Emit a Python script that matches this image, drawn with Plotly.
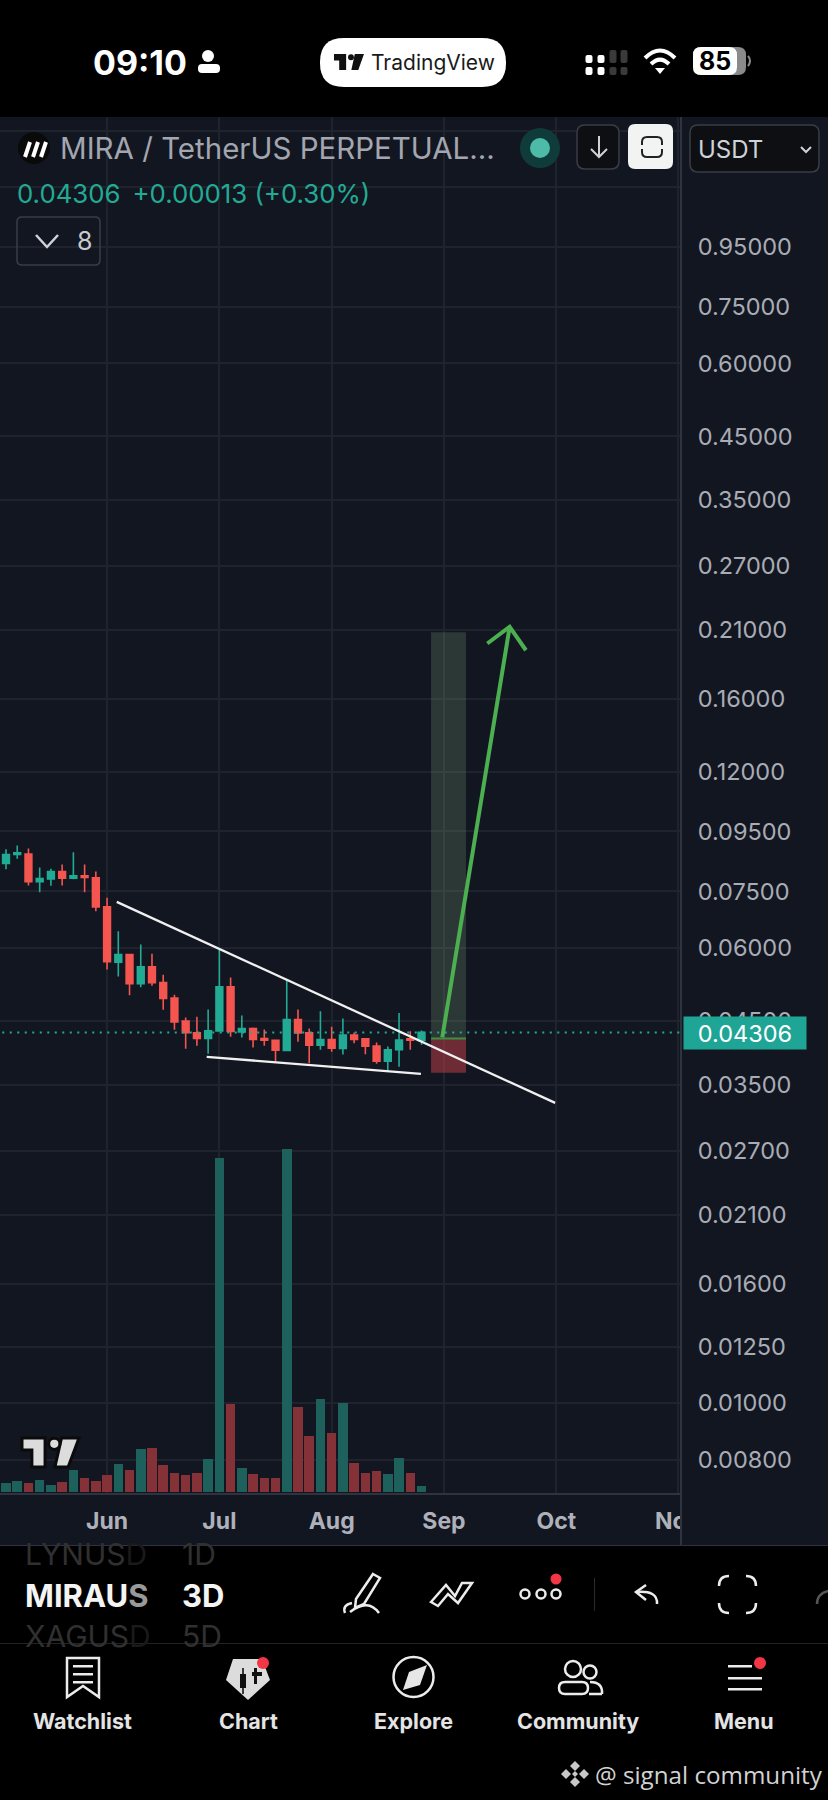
import plotly.graph_objects as go

# ============================
# 1. Chart data (3D bars, MIRAUSDT perp)
# ============================
opens = [0.08374, 0.08676, 0.08687, 0.07791, 0.07883, 0.08115, 0.07904, 0.07978, 0.07914, 0.07060,
         0.05678, 0.05853, 0.05214, 0.05575, 0.05242, 0.04928, 0.04501, 0.04300, 0.04204, 0.04333,
         0.05153, 0.04316, 0.04373, 0.04204, 0.04176, 0.04010, 0.04531, 0.04299, 0.04095, 0.04188,
         0.04042, 0.04260, 0.04199, 0.04079, 0.03845, 0.04021, 0.04199, 0.04171]
highs = [0.08860, 0.08989, 0.08883, 0.08244, 0.08200, 0.08341, 0.08756, 0.08341, 0.08115, 0.07315,
         0.06416, 0.05853, 0.06087, 0.05868, 0.05402, 0.04993, 0.04567, 0.04579, 0.04713, 0.05969,
         0.05345, 0.04604, 0.04391, 0.04356, 0.04176, 0.05311, 0.04713, 0.04373, 0.04682, 0.04402,
         0.04549, 0.04304, 0.04199, 0.04138, 0.04074, 0.04646, 0.04327, 0.04339]
lows = [0.08189, 0.08529, 0.07679, 0.07481, 0.07669, 0.07679, 0.07873, 0.07481, 0.06941, 0.05517,
        0.05366, 0.04987, 0.05146, 0.05173, 0.04707, 0.04350, 0.04036, 0.04085, 0.03958, 0.04316,
        0.04232, 0.04221, 0.04058, 0.04085, 0.03841, 0.04010, 0.04149, 0.03815, 0.04021, 0.03989,
        0.03947, 0.04127, 0.03953, 0.03805, 0.03687, 0.03761, 0.04021, 0.04100]
closes = [0.08676, 0.08733, 0.07791, 0.07894, 0.08115, 0.07904, 0.07978, 0.07925, 0.07060, 0.05686,
          0.05853, 0.05214, 0.05575, 0.05235, 0.04921, 0.04489, 0.04300, 0.04204, 0.04333, 0.05153,
          0.04322, 0.04373, 0.04187, 0.04176, 0.04015, 0.04531, 0.04299, 0.04095, 0.04188, 0.04047,
          0.04260, 0.04188, 0.04079, 0.03845, 0.04021, 0.04177, 0.04177, 0.04306]
volumes = [27, 32, 28, 37, 21, 30, 67, 43, 34, 52, 83, 67, 129, 132, 82, 56, 51, 58, 99, 1001,
           263, 73, 54, 43, 41, 1029, 255, 169, 278, 178, 268, 88, 56, 64, 54, 101, 56, 18]
bars = list(range(len(opens)))

price_ticks = [1.5, 1.2, 0.95, 0.75, 0.6, 0.45, 0.35, 0.27, 0.21, 0.16, 0.12, 0.095, 0.075, 0.06,
               0.045, 0.035, 0.027, 0.021, 0.016, 0.0125, 0.01, 0.008]
price_labels = ["", "", "0.95000", "0.75000", "0.60000", "0.45000", "0.35000", "0.27000", "0.21000",
                "0.16000", "0.12000", "0.09500", "0.07500", "0.06000", "0.04500", "0.03500",
                "0.02700", "0.02100", "0.01600", "0.01250", "0.01000", "0.00800"]
month_ticks = [9, 19, 29, 39, 49, 59.8]
month_labels = ["Jun", "Jul", "Aug", "Sep", "Oct", "Nov"]

# drawings on the chart (bar index, price)
top_line_x = [9.86, 48.9]
top_line_y = [0.07200, 0.03263]
low_line_x = [17.87, 36.95]
low_line_y = [0.03911, 0.03658]
box_x = [37.85, 40.96, 40.96, 37.85, 37.85]
box_top_y = [0.2082, 0.2082, 0.04205, 0.04205, 0.2082]
box_low_y = [0.04205, 0.04205, 0.03672, 0.03672, 0.04205]
arrow_x = [38.85, 44.85]
arrow_y = [0.04222, 0.2126]
head_x = [42.86, 44.85, 46.3]
head_y = [0.1991, 0.2126, 0.1939]
last_price = 0.04306

PANEL = "#121621"
GRID = "#1f232e"
EDGE = "#2f3340"
UP = "#22ab94"
DOWN = "#f5554f"
FONT = "Inter"
W, H = 828, 1800


# ============================
# 2. Helpers for the app chrome (pixel -> paper)
# ============================
def fx(x):
    return x / W


def fy(y):
    return 1 - y / H


def path_of(points, close=False):
    out = ""
    for i, (x, y) in enumerate(points):
        out += ("M" if i == 0 else "L") + f"{fx(x):.5f},{fy(y):.5f} "
    return out + ("Z" if close else "")


def curve(x0, y0, cx, cy, x1, y1):
    return f"M{fx(x0):.5f},{fy(y0):.5f} Q{fx(cx):.5f},{fy(cy):.5f} {fx(x1):.5f},{fy(y1):.5f}"


def round_rect(x0, y0, x1, y1, r):
    p = [(x0 + r, y0), (x1 - r, y0), (x1, y0), (x1, y0 + r), (x1, y1 - r), (x1, y1), (x1 - r, y1),
         (x0 + r, y1), (x0, y1), (x0, y1 - r), (x0, y0 + r), (x0, y0), (x0 + r, y0)]
    c = [(fx(a), fy(b)) for a, b in p]
    return (f"M{c[0][0]:.5f},{c[0][1]:.5f} L{c[1][0]:.5f},{c[1][1]:.5f} "
            f"Q{c[2][0]:.5f},{c[2][1]:.5f} {c[3][0]:.5f},{c[3][1]:.5f} L{c[4][0]:.5f},{c[4][1]:.5f} "
            f"Q{c[5][0]:.5f},{c[5][1]:.5f} {c[6][0]:.5f},{c[6][1]:.5f} L{c[7][0]:.5f},{c[7][1]:.5f} "
            f"Q{c[8][0]:.5f},{c[8][1]:.5f} {c[9][0]:.5f},{c[9][1]:.5f} L{c[10][0]:.5f},{c[10][1]:.5f} "
            f"Q{c[11][0]:.5f},{c[11][1]:.5f} {c[12][0]:.5f},{c[12][1]:.5f} Z")


shapes = []
notes = []


def draw(path, fill="rgba(0,0,0,0)", color="rgba(0,0,0,0)", width=0):
    shapes.append(dict(type="path", xref="paper", yref="paper", path=path, fillcolor=fill,
                       line=dict(color=color, width=width), layer="above"))


def rect(x0, y0, x1, y1, fill):
    shapes.append(dict(type="rect", xref="paper", yref="paper", x0=fx(x0), x1=fx(x1), y0=fy(y1), y1=fy(y0),
                       fillcolor=fill, line=dict(width=0), layer="above"))


def dot(x, y, r, fill="rgba(0,0,0,0)", color="rgba(0,0,0,0)", width=0):
    shapes.append(dict(type="circle", xref="paper", yref="paper", x0=fx(x - r), x1=fx(x + r), y0=fy(y + r),
                       y1=fy(y - r), fillcolor=fill, line=dict(color=color, width=width), layer="above"))


def text(x, y, s, size, color, anchor="left", font=FONT):
    notes.append(dict(xref="paper", yref="paper", x=fx(x), y=fy(y), text=s, showarrow=False, xanchor=anchor,
                      yanchor="middle", font=dict(family=font, size=size, color=color), borderpad=0))


def tv_logo(x0, y0, w, h, fill, edge=None):
    def n(a, b):
        return (x0 + (a - 65) / 173 * w, y0 + (b - 925) / 85 * h)
    lw = 3 if edge else 0
    col = edge or "rgba(0,0,0,0)"
    draw(path_of([n(65, 925), n(135, 925), n(135, 1010), n(95, 1010), n(95, 960), n(65, 960)], True), fill, col, lw)
    draw(path_of([n(185, 925), n(238, 925), n(205, 1010), n(165, 1010)], True), fill, col, lw)
    dot(*n(163, 942), 17 / 173 * w, fill, col, lw)


# ============================
# 3. Chart traces
# ============================
fig = go.Figure()

fig.add_trace(go.Scatter(x=box_x, y=box_top_y, mode="lines", fill="toself", fillcolor="rgba(118,158,117,0.25)",
                         line=dict(width=0), hoverinfo="skip"))
fig.add_trace(go.Scatter(x=box_x, y=box_low_y, mode="lines", fill="toself", fillcolor="rgba(170,59,68,0.6)",
                         line=dict(width=0), hoverinfo="skip"))
fig.add_trace(go.Scatter(x=box_x[:2], y=box_low_y[:2], mode="lines", line=dict(color="#3f8f42", width=2),
                         hoverinfo="skip"))
fig.add_trace(go.Scatter(x=[-1, 61], y=[last_price, last_price], mode="lines",
                         line=dict(color=UP, width=2, dash="2px,5.5px"), hoverinfo="skip"))
fig.add_trace(go.Candlestick(x=bars, open=opens, high=highs, low=lows, close=closes, whiskerwidth=0,
                             increasing=dict(line=dict(color=UP, width=1.6), fillcolor=UP),
                             decreasing=dict(line=dict(color=DOWN, width=1.6), fillcolor=DOWN)))
fig.add_trace(go.Scatter(x=top_line_x, y=top_line_y, mode="lines", line=dict(color="#f0f0f0", width=2.3),
                         hoverinfo="skip"))
fig.add_trace(go.Scatter(x=low_line_x, y=low_line_y, mode="lines", line=dict(color="#f0f0f0", width=2.3),
                         hoverinfo="skip"))
fig.add_trace(go.Scatter(x=arrow_x, y=arrow_y, mode="lines", line=dict(color="#4caf50", width=4),
                         hoverinfo="skip"))
fig.add_trace(go.Scatter(x=head_x, y=head_y, mode="lines", line=dict(color="#4caf50", width=4),
                         hoverinfo="skip"))
vol_colors = [("#1e605c" if c >= o else "#843237") for o, c in zip(opens, closes)]
fig.add_trace(go.Bar(x=bars, y=volumes, marker=dict(color=vol_colors, line=dict(width=0)), width=0.85,
                     yaxis="y2", hoverinfo="skip"))

# ============================
# 4. App chrome
# ============================
# chart watermark
tv_logo(22, 1438, 57, 29, "#dcdcdc", "#0b0b0b")

# top and bottom black bands
rect(0, 0, W, 117, "#000000")
rect(0, 1546, W, H, "#000000")
rect(682, 1494, W, 1545, PANEL)
rect(680, 117, 682, 1546, EDGE)
rect(0, 1545, W, 1546, EDGE)

# status bar
text(92, 62, "<b>09:10</b>", 34, "#ffffff")
dot(208, 56, 6, "#ffffff")
draw(round_rect(198, 64, 220, 73, 4), "#ffffff")
draw(round_rect(320, 38, 506, 87, 24), "#ffffff")
tv_logo(334, 54, 30, 16, "#111111")
text(370, 62, "TradingView", 21, "#1a1a1a")
for bx, col in [(589, "#ffffff"), (601, "#ffffff"), (613, "#3a3a3a"), (624, "#3a3a3a")]:
    draw(round_rect(bx - 3.5, 55 if bx < 610 else 50, bx + 3.5, 63, 2), col)
    draw(round_rect(bx - 3.5, 67, bx + 3.5, 75, 2), col)
draw(curve(645, 58, 660, 43, 675, 58), color="#ffffff", width=4)
draw(curve(651, 64, 660, 55, 669, 64), color="#ffffff", width=4)
draw(path_of([(655, 68), (665, 68), (660, 74)], True), "#ffffff")
draw(round_rect(693, 47, 746, 75, 8), "#8a8a8a")
draw(round_rect(693, 47, 737, 75, 8), "#ffffff")
draw(curve(748, 56, 752, 61, 748, 66), color="#8a8a8a", width=2)
text(715, 61, "<b>85</b>", 25, "#000000", "center")

# symbol header
dot(34, 148, 16, "#0a0a0a")
for sx in (25, 33, 41):
    draw(path_of([(sx, 157), (sx + 5, 142)]), color="#ffffff", width=4)
text(59, 148, "MIRA / TetherUS PERPETUAL...", 29.5, "#a3a6af")
dot(540, 148, 20, "#0f3b3b")
dot(540, 148, 10, "#4dbba8")
draw(round_rect(577, 125, 619, 169, 8), "#0e0f12", "#3a3d46", 1.5)
draw(path_of([(599, 136), (599, 157)]), color="#d0d2d6", width=2)
draw(path_of([(591, 149), (599, 157), (607, 149)]), color="#d0d2d6", width=2)
draw(round_rect(628, 124, 673, 169, 7), "#f2f3f3")
draw(round_rect(642, 137, 662, 157, 5), color="#222222", width=2)
rect(638, 145, 666, 149, "#f2f3f3")
draw(round_rect(690, 125, 819, 172, 8), "#0e0f12", "#3a3d46", 1.5)
text(697, 149, "USDT", 24, "#cfd2d8")
draw(path_of([(801, 147), (806, 152), (811, 147)]), color="#cfd2d8", width=2)
text(15.5, 193, "0.04306 \u2009+0.00013 (+0.30%)", 25.8, UP)
draw(round_rect(17, 217, 100, 265, 5), "rgba(0,0,0,0)", "#3a3d46", 1.5)
draw(path_of([(36, 235), (47, 247), (58, 235)]), color="#d0d2d6", width=2.5)
text(84, 241, "8", 25, "#c8cad0", "center")

# last price tag
notes.append(dict(xref="paper", yref="paper", x=fx(683), y=fy(1033), text="0.04306", showarrow=False,
                  xanchor="left", yanchor="middle", width=122, height=32, align="center", bgcolor="#1fa595",
                  borderpad=0, font=dict(family=FONT, size=23.5, color="#ffffff")))

# symbol / interval picker
text(24, 1554, "LYNUS<span style='color:#1a1a1a'>D</span>", 30, "#303030")
text(181, 1554, "1D", 30, "#303030")
text(24, 1595, "<b>MIRAU<span style='color:#999999'>S</span></b>", 31, "#f4f4f4")
text(181, 1595, "<b>3D</b>", 31, "#f4f4f4")
text(24, 1636, "XAGUS<span style='color:#1a1a1a'>D</span>", 30, "#303030")
text(181, 1636, "5D", 30, "#303030")
rect(0, 1643, W, 1644, "#222222")

# drawing tools
STROKE = "#ececec"
draw(path_of([(373, 1574), (380, 1578), (364, 1604), (355, 1608), (356, 1599)], True), color=STROKE, width=2.5)
draw(curve(345, 1613, 342, 1605, 352, 1603), color=STROKE, width=2.5)
draw(curve(350, 1612, 368, 1598, 379, 1613), color=STROKE, width=2.5)
draw(path_of([(431, 1602), (446, 1585), (455, 1596), (462, 1583), (472, 1583), (458, 1603), (448, 1594),
              (438, 1606)], True), color=STROKE, width=2.5)
for cx in (525, 541, 556):
    dot(cx, 1594, 4.5, color=STROKE, width=2.5)
dot(556, 1579, 5.5, "#f23645")
rect(594, 1578, 595, 1611, "#2a2a2a")
draw(path_of([(646, 1585), (636, 1592), (646, 1600)]), color=STROKE, width=2.5)
draw(curve(636, 1592, 658, 1590, 657, 1604), color=STROKE, width=2.5)
for cx0, cy0, cx1, cy1, mx, my in [(719, 1586, 729, 1576, 719, 1576), (746, 1576, 756, 1586, 756, 1576),
                                   (756, 1603, 746, 1613, 756, 1613), (729, 1613, 719, 1603, 719, 1613)]:
    draw(curve(cx0, cy0, mx, my, cx1, cy1), color=STROKE, width=2.5)
draw(curve(817, 1604, 817, 1594, 828, 1591), color="#555555", width=2.5)

# bottom navigation
draw(path_of([(67, 1658), (99, 1658), (99, 1697), (83, 1686), (67, 1697)], True), color=STROKE, width=2.5)
for ly in (1665, 1673, 1681):
    rect(73, ly, 93, ly + 2.5, STROKE)
draw(path_of([(233, 1659), (262, 1659), (270, 1680), (248, 1700), (226, 1680)], True), "#dcdcdc")
rect(240, 1674, 246, 1688, "#111111")
rect(242.2, 1668, 243.8, 1694, "#111111")
rect(252, 1672, 262, 1676, "#111111")
rect(254, 1668, 257, 1684, "#111111")
dot(263, 1663, 6, "#f23645")
dot(413.5, 1677, 20, color=STROKE, width=2.5)
draw(path_of([(427, 1665), (420, 1685), (403, 1690), (409, 1672)], True), "#e6e6e6")
dot(573, 1669, 8, color=STROKE, width=2.5)
dot(590, 1672, 6.5, color=STROKE, width=2.5)
draw(round_rect(559, 1682, 588, 1694, 6), color=STROKE, width=2.5)
draw(curve(590, 1682, 603, 1682, 602, 1694), color=STROKE, width=2.5)
draw(path_of([(589, 1694), (602, 1694)]), color=STROKE, width=2.5)
rect(728, 1665, 752, 1667.5, STROKE)
rect(728, 1677, 762, 1679.5, STROKE)
rect(728, 1688, 762, 1690.5, STROKE)
dot(760, 1663, 6, "#f23645")
for nav_x, nav_s in [(82, "Watchlist"), (248, "Chart"), (413.5, "Explore"), (578, "Community"), (744, "Menu")]:
    text(nav_x, 1721, f"<b>{nav_s}</b>", 21.5, "#e4e4e4", "center")

# watermark bottom right
for lx, ly, lr in [(575, 1766, 5), (566, 1774, 5), (584, 1774, 5), (575, 1782, 5), (575, 1774, 3)]:
    draw(path_of([(lx, ly - lr), (lx + lr, ly), (lx, ly + lr), (lx - lr, ly)], True), "#c8c8c8")
text(594, 1774, "@ signal community", 24.2, "#d2d2d2", font="Open Sans")

# ============================
# 5. Layout
# ============================
fig.update_layout(
    width=W, height=H,
    margin=dict(l=0, r=0, t=0, b=0),
    paper_bgcolor=PANEL, plot_bgcolor=PANEL,
    showlegend=False, hovermode=False, bargap=0, boxgap=0.14,
    shapes=shapes, annotations=notes,
    xaxis=dict(domain=[0, 681 / W], range=[-0.534, 60.107], type="linear", rangeslider=dict(visible=False),
               automargin=False,
               tickmode="array", tickvals=month_ticks, ticktext=month_labels, showgrid=True, gridcolor=GRID,
               gridwidth=1.5, zeroline=False, showline=True, linecolor=EDGE, linewidth=2, ticks="outside",
               ticklen=6, tickcolor="rgba(0,0,0,0)", tickangle=0,
               tickfont=dict(family=FONT, size=23, color="#aeb1ba", weight="bold")),
    yaxis=dict(domain=[1 - 1493 / H, 1 - 117 / H], type="log", range=[-2.1535, 0.1994], side="right", anchor="x",
               automargin=False,
               tickmode="array", tickvals=price_ticks, ticktext=price_labels, showgrid=True, gridcolor=GRID,
               gridwidth=1.5, zeroline=False, showline=False, ticks="outside", ticklen=11,
               tickcolor="rgba(0,0,0,0)", tickfont=dict(family=FONT, size=23.5, color="#a9acb4")),
    yaxis2=dict(overlaying="y", range=[-3, 4125], visible=False, anchor="x"),
)

fig.write_html("out.html", config=dict(displayModeBar=False),
               post_script="document.body.style.margin='0';")
